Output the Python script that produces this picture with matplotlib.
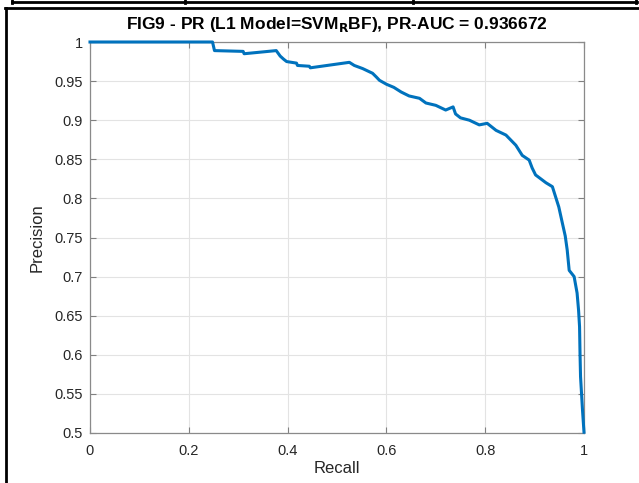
import matplotlib
matplotlib.use("Agg")
import matplotlib.pyplot as plt
from matplotlib.lines import Line2D

plt.rcParams['font.family'] = ['Liberation Sans', 'DejaVu Sans']

recall = [0.0, 0.248, 0.252, 0.31, 0.312, 0.377, 0.385, 0.392, 0.398, 0.418, 0.42,
          0.444, 0.446, 0.525, 0.535, 0.552, 0.562, 0.572, 0.58, 0.586, 0.60,
          0.615, 0.63, 0.646, 0.667, 0.68, 0.70, 0.72, 0.735, 0.74, 0.75,
          0.768, 0.788, 0.804, 0.822, 0.842, 0.862, 0.875, 0.889, 0.895, 0.902,
          0.923, 0.936, 0.949, 0.956, 0.962, 0.966, 0.970, 0.980, 0.986, 0.989,
          0.991, 0.992, 0.993, 0.997, 1.0]
precision = [1.0, 1.0, 0.989, 0.988, 0.985, 0.989, 0.982, 0.978, 0.975, 0.973, 0.970,
             0.969, 0.967, 0.974, 0.970, 0.966, 0.963, 0.960, 0.955, 0.951, 0.946,
             0.942, 0.936, 0.931, 0.928, 0.922, 0.919, 0.913, 0.917, 0.908, 0.903,
             0.900, 0.894, 0.896, 0.887, 0.881, 0.868, 0.855, 0.849, 0.839, 0.830,
             0.820, 0.815, 0.789, 0.769, 0.752, 0.734, 0.708, 0.700, 0.679, 0.657,
             0.636, 0.600, 0.572, 0.529, 0.501]
xticks = [0, 0.2, 0.4, 0.6, 0.8, 1]
xtick_labels = ["0", "0.2", "0.4", "0.6", "0.8", "1"]
yticks = [0.5, 0.55, 0.6, 0.65, 0.7, 0.75, 0.8, 0.85, 0.9, 0.95, 1]
ytick_labels = ["0.5", "0.55", "0.6", "0.65", "0.7", "0.75", "0.8", "0.85", "0.9", "0.95", "1"]
title = r"FIG9 - PR (L1 Model=SVM$_\mathbf{R}$BF), PR-AUC = 0.936672"

fig = plt.figure(figsize=(6.39, 4.83), dpi=100)
ax = fig.add_axes([90/639, 1-433/483, 494/639, 391/483])

ax.plot(recall, precision, color="#0072BD", linewidth=2.2, clip_on=False, zorder=3)
ax.set_xlim(0, 1)
ax.set_ylim(0.5, 1)
ax.set_xticks(xticks, xtick_labels)
ax.set_yticks(yticks, ytick_labels)
ax.grid(True, color="#e3e3e3", linewidth=0.8)
ax.set_axisbelow(True)
ax.tick_params(direction="in", length=4, width=0.8, colors="#808080", labelcolor="#262626",
               labelsize=10.5, top=True, right=True)
ax.tick_params(axis="x", pad=8)
ax.tick_params(axis="y", pad=5)
for s in ax.spines.values():
    s.set_color("#8a8a8a")
    s.set_linewidth(0.9)
ax.set_xlabel("Recall", fontsize=12, color="#262626", labelpad=2)
ax.set_ylabel("Precision", fontsize=12, color="#262626", labelpad=7)
ax.set_title(title, fontsize=12.5, fontweight="bold", color="black", pad=9)

# frame of the surrounding table
k = dict(color="black", linewidth=2, transform=fig.transFigure)
fig.add_artist(Line2D([12/639, 637/639], [1-2/483, 1-2/483], **k))
for xv in [12, 185, 413, 636]:
    fig.add_artist(Line2D([xv/639, xv/639], [1, 1-3/483], **k))
fig.add_artist(Line2D([5/639, 1], [1-8/483, 1-8/483], **k))
fig.add_artist(Line2D([6/639, 6/639], [0, 1-8/483], **k))

fig.savefig("out.png", dpi=100)
